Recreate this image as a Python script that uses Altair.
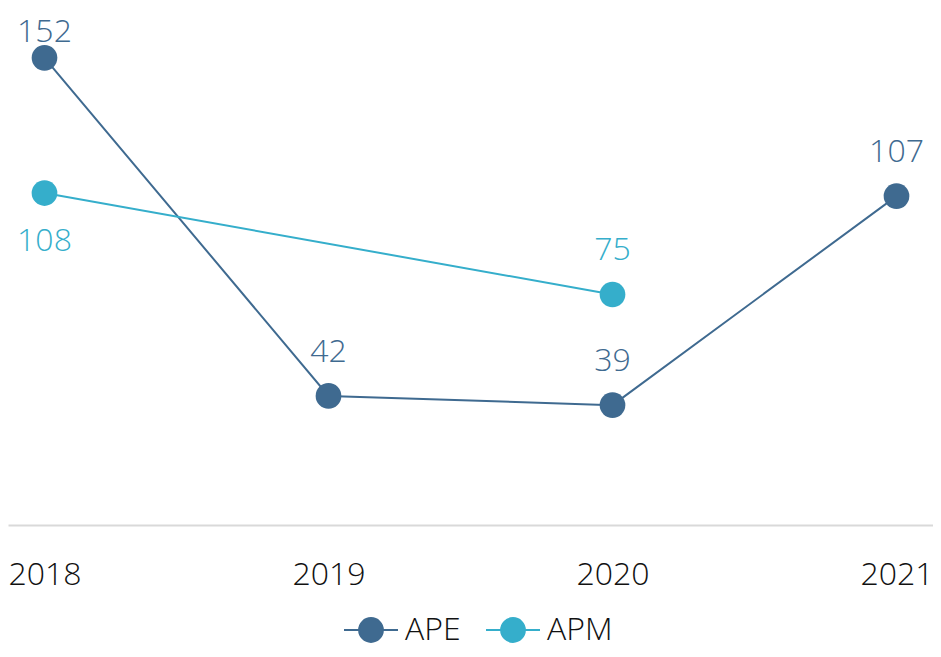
import altair as alt
import pandas as pd

# ---- data ----
years = [2018, 2019, 2020, 2021]
ape = [152, 42, 39, 107]
apm = [108, None, 75, None]
# Excel label placement per point (APE then APM)
ape_label_side = ["above", "above", "above", "above"]
apm_label_side = ["below", None, "above", None]

series_names = ["APE", "APM"]
series_colors = ["#3F6A90", "#35AECB"]

rows = []
for y, v, s in zip(years, ape, ape_label_side):
    rows.append({"year": y, "value": v, "series": "APE", "side": s})
for y, v, s in zip(years, apm, apm_label_side):
    if v is not None:
        rows.append({"year": y, "value": v, "series": "APM", "side": s})
df = pd.DataFrame(rows)

FONT = "Open Sans"
LABEL_CAP = 146.0  # labels near the top are kept inside the chart, as Excel does

x = alt.X("year:Q",
          scale=alt.Scale(domain=[2017.8715, 2021.1285], nice=False, zero=False),
          axis=alt.Axis(values=years, format="d", title=None, grid=False, ticks=False,
                        domainColor="#D9D9D9", domainWidth=2, labelFont=FONT,
                        labelFontSize=32, labelColor="#111111", labelPadding=34,
                        labelFontWeight=300, labelFlush=False))
y_scale = alt.Scale(domain=[0, 168.2], nice=False)
color = alt.Color("series:N",
                  scale=alt.Scale(domain=series_names, range=series_colors),
                  legend=alt.Legend(title=None, orient="none", direction="horizontal",
                                    legendX=335, legendY=594,
                                    symbolType="M-1,0L1,0M-0.44,0A0.44,0.44,0,1,1,0.44,0A0.44,0.44,0,1,1,-0.44,0Z",
                                    symbolSize=2916, symbolStrokeWidth=2,
                                    labelFont=FONT, labelFontSize=32, labelColor="#111111",
                                    labelFontWeight=300, labelOffset=6, columnPadding=21,
                                    padding=0))

base = alt.Chart(df)

lines = base.mark_line(strokeWidth=2).encode(
    x=x, y=alt.Y("value:Q", scale=y_scale, axis=None), color=color,
    detail="series:N")

points = base.mark_point(filled=True, size=660, opacity=1).encode(
    x=x, y=alt.Y("value:Q", scale=y_scale, axis=None), color=color)

label_color = alt.Color("series:N", scale=alt.Scale(domain=series_names, range=series_colors), legend=None)

labels_above = base.transform_filter(alt.datum.side == "above").transform_calculate(
    ly=f"min(datum.value, {LABEL_CAP})"
).mark_text(font=FONT, fontSize=32, fontWeight=300, baseline="alphabetic", dy=-34).encode(
    x=x, y=alt.Y("ly:Q", scale=y_scale, axis=None),
    text=alt.Text("value:Q", format="d"), color=label_color)

labels_below = base.transform_filter(alt.datum.side == "below").mark_text(
    font=FONT, fontSize=32, fontWeight=300, baseline="alphabetic", dy=58).encode(
    x=x, y=alt.Y("value:Q", scale=y_scale, axis=None),
    text=alt.Text("value:Q", format="d"), color=label_color)

chart = alt.layer(lines, points, labels_above, labels_below).properties(
    width=925, height=517,
    autosize=alt.AutoSizeParams(type="none"),
    padding={"left": 0, "top": 0, "right": 0, "bottom": 124},
).configure_view(stroke=None)

chart.save("out.html", embed_options={"renderer": "svg", "actions": False})
